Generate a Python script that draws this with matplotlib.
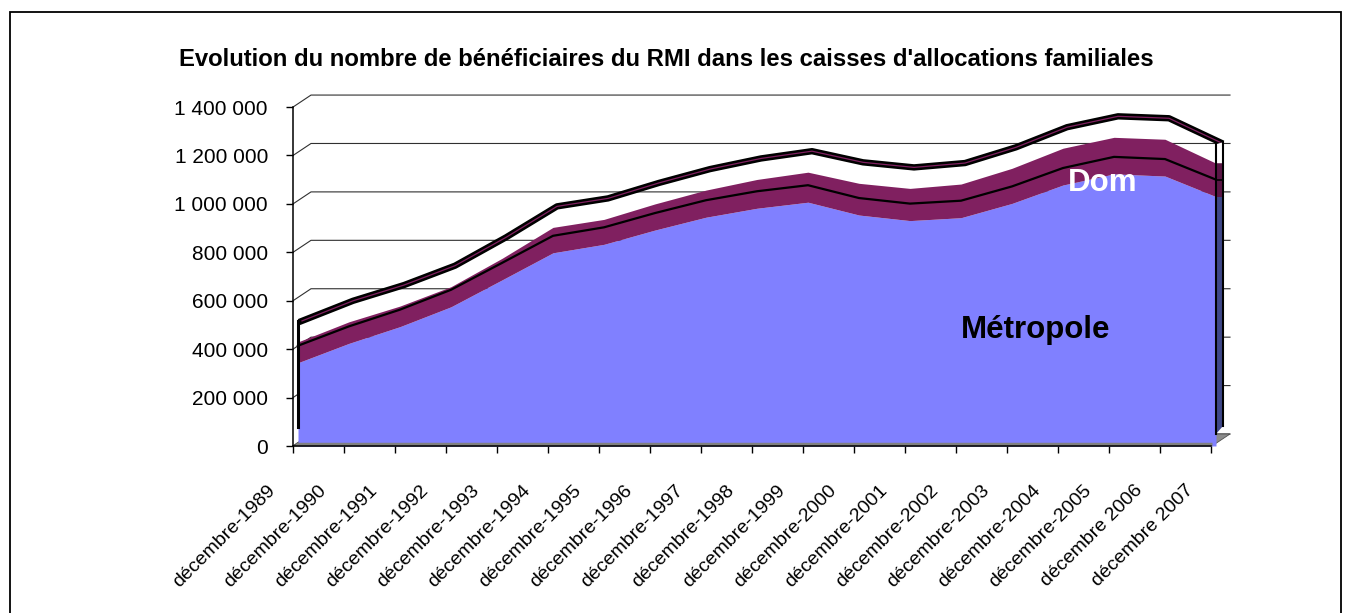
import numpy as np
import matplotlib.pyplot as plt
from matplotlib.transforms import ScaledTranslation

plt.rcParams['font.family'] = ['Liberation Sans', 'DejaVu Sans']

# values (number of RMI beneficiaries, December of each year)
annees = ['décembre-1989', 'décembre-1990', 'décembre-1991', 'décembre-1992',
          'décembre-1993', 'décembre-1994', 'décembre-1995', 'décembre-1996',
          'décembre-1997', 'décembre-1998', 'décembre-1999', 'décembre-2000',
          'décembre-2001', 'décembre-2002', 'décembre-2003', 'décembre-2004',
          'décembre-2005', 'décembre 2006', 'décembre 2007']
metropole = [344000, 424000, 493000, 575000, 686000, 798000, 833000, 892000,
             945000, 982000, 1007000, 954000, 931000, 943000, 1002000, 1078000,
             1124000, 1115000, 1030000]
dom = [86000, 89000, 85000, 83000, 89000, 105000, 103000, 108000, 112000,
       119000, 124000, 131000, 133000, 139000, 145000, 152000, 151000, 152000,
       138000]
yticks = [0, 200000, 400000, 600000, 800000, 1000000, 1200000, 1400000]

titre = "Evolution du nombre de bénéficiaires du RMI dans les caisses d'allocations familiales"

bleu = '#8080ff'
bordeaux = '#802060'

metropole = np.array(metropole)
total = metropole + np.array(dom)
x = np.arange(len(annees))

W, H = 1351, 613
fig = plt.figure(figsize=(W / 100, H / 100), dpi=100)
ax = fig.add_axes([293 / W, (H - 446) / H, (1232 - 293) / W, (446 - 95) / H])

# pixel -> data units (x: 51 px per year, y: 242.1 px per million)
px = 1 / 51
py = 1e6 / 242.1
x0 = -5 * px
x1 = x[-1] - 4 * px
ax.set_xlim(x0, x[-1] + 16 * px)
ax.set_ylim(0, 351 * py)
ax.patch.set_visible(False)

# back wall grid (3D depth)
for lev in yticks:
    ax.plot([x0, x0 + 18 * px, x1 + 18 * px], [lev, lev + 12 * py, lev + 12 * py],
            color='#303030', lw=0.8, zorder=1, clip_on=False)

# floor
ax.fill([x0, x1, x1 + 18 * px, x0 + 18 * px], [0, 0, 12 * py, 12 * py],
        color='#8c8c8c', ec='#505050', lw=0.6, zorder=1.5, clip_on=False)

# front faces
ax.fill_between(x, 0, metropole, color=bleu, lw=0, zorder=2)
ax.fill_between(x, metropole, total, color=bordeaux, lw=0, zorder=2)
ax.plot([x0 + 3 * px, x1], [2 * py, 2 * py], color='#808080', lw=2.5, zorder=2.5,
        solid_capstyle='butt')

# top edges
ax.plot(x, metropole + 17 * py, color='k', lw=1.6, zorder=3)
rx = x + 4 * px
ry = total + 21 * py
ax.plot(rx, ry, color='k', lw=4.6, zorder=3)
ax.plot(rx, ry, color=bordeaux, lw=0.9, zorder=3.1)
ax.plot([x[0], x[0]], [19 * py, ry[0]], color='k', lw=2.2, zorder=3)

# right side face
xs0, xs1 = x[-1], x[-1] + 7 * px
ax.fill([xs0, xs1, xs1, xs0], [12 * py, 20 * py, metropole[-1], metropole[-1]],
        color='#3f4888', lw=0, zorder=3)
ax.fill([xs0, xs1, xs1, xs0], [metropole[-1], metropole[-1], total[-1], total[-1]],
        color='#5a1645', lw=0, zorder=3)
ax.fill([xs0, xs1, xs1, xs0], [total[-1], total[-1], ry[-1], ry[-1] - 2 * py],
        color='white', lw=0, zorder=3)
ax.plot([xs0, xs0], [12 * py, ry[-1] - 2 * py], color='k', lw=1.5, zorder=3.2)
ax.plot([xs1, xs1], [20 * py, ry[-1]], color='k', lw=1.5, zorder=3.2)
ax.plot([xs0, xs1], [metropole[-1] + 17 * py, metropole[-1] + 17 * py], color='k', lw=1.2, zorder=3.2)

# axes
for s in ['top', 'right']:
    ax.spines[s].set_visible(False)
ax.spines['left'].set_bounds(0, yticks[-1])
ax.spines['bottom'].set_bounds(x0, x1 - 1 * px)
for s in ['left', 'bottom']:
    ax.spines[s].set_linewidth(1.1)
    ax.spines[s].set_zorder(4)

ax.set_yticks(yticks, [f'{v:,}'.replace(',', ' ') for v in yticks])
ax.tick_params(axis='y', direction='out', length=5, width=1, pad=13, labelsize=15)

ax.set_xticks(x + x0, annees)
ax.tick_params(axis='x', direction='out', length=5, width=1, pad=25, labelsize=14)
shift = ScaledTranslation(-0.20, 0, fig.dpi_scale_trans)
for lab in ax.get_xticklabels():
    lab.set_rotation(45)
    lab.set_ha('right')
    lab.set_va('center')
    lab.set_rotation_mode('anchor')
    lab.set_transform(lab.get_transform() + shift)

ax.text(15.78, 1086000, 'Dom', color='white', fontsize=22.5, fontweight='bold',
        ha='center', va='center', zorder=5)
ax.text(14.47, 479000, 'Métropole', color='black', fontsize=22.5, fontweight='bold',
        ha='center', va='center', zorder=5)

fig.text(666 / W, 1 - 60 / H, titre, ha='center', va='center', fontsize=17.2,
         fontweight='bold')

fig.add_artist(plt.Rectangle((10 / W, -0.1), (1341 - 10) / W, 1 - 12 / H + 0.1,
                             transform=fig.transFigure, fill=False, lw=1.3, ec='k'))

fig.savefig('out.png', dpi=100)
